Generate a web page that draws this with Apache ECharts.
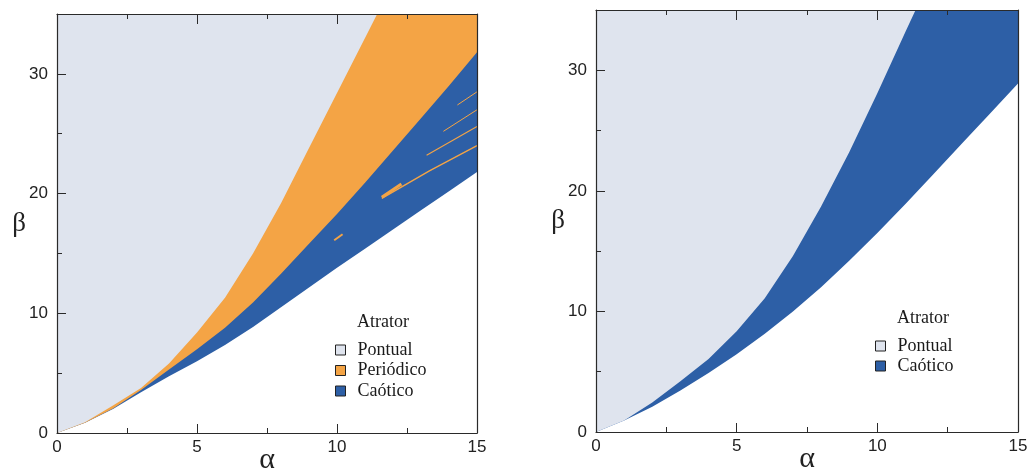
<!DOCTYPE html>
<html>
<head>
<meta charset="utf-8">
<script src="https://cdn.jsdelivr.net/npm/echarts@6/dist/echarts.min.js"></script>
<style>
html,body{margin:0;padding:0;background:#fff;}
#chart{width:1030px;height:476px;}
</style>
</head>
<body>
<div id="chart"></div>
<script>
// ---- data ----
const alpha = [0,1,2,3,4,5,6,7,8,9,10,11,12,13,14,15];

// left panel: boundaries beta(alpha)
const leftLower  = [0,0.85,2.0,3.4,4.75,6.0,7.35,8.85,10.5,12.15,13.8,15.4,17.0,18.6,20.2,21.8];
const leftMiddle = [0,0.85,2.05,3.6,5.3,7.0,8.8,10.9,13.3,15.8,18.3,20.9,23.6,26.3,29.0,31.8];
const leftUpper  = [0,0.9,2.3,3.75,5.8,8.4,11.3,15.0,19.2,23.8,28.4,33.0,37.6,42.0,46.5,51.0];

// thin periodic windows inside the chaotic band (left panel)
const streakA = [[11.6,19.6],[13.3,21.9],[15,24.0]];
const streakB = [[11.6,19.7],[12.3,20.8]];
const streakC = [[13.2,23.2],[15,25.6]];
const streakD = [[13.8,25.2],[15,27.0]];
const streakE = [[14.3,27.4],[15,28.5]];
const streakF = [[9.9,16.1],[10.2,16.6]];

// right panel
const rightLower = [0,0.95,2.1,3.45,4.9,6.45,8.15,10.0,12.0,14.2,16.5,18.9,21.4,23.9,26.4,28.9];
const rightUpper = [0,0.95,2.45,4.2,6.05,8.35,11.1,14.6,18.7,23.2,28.1,33.2,38.2,43.0,48.0,53.0];

const xTicks = {min:0, max:15, interval:5};
const yTicks = {min:0, max:35, interval:10, minorInterval:5};
const legendLeft = ['Pontual','Periódico','Caótico'];
const legendRight = ['Pontual','Caótico'];
const legendTitle = 'Atrator';

// ---- styling ----
const C_PONT = '#dfe4ee';
const C_PER  = '#f4a445';
const C_CAO  = '#2d5fa6';
const AX = '#2a2a2a';
const tickFont = {fontSize:17, fontFamily:'Liberation Sans, Arial, sans-serif', color:'#222'};
const greekFont = {fontFamily:'Liberation Serif, serif', color:'#222'};

function zip(xs, ys){ return xs.map((x,i)=>[x, ys[i]]); }

function xAxes(g){
  return [
    {type:'value', gridIndex:g, min:xTicks.min, max:xTicks.max, interval:xTicks.interval, position:'bottom', z:10,
     axisLine:{show:true, onZero:false, lineStyle:{color:AX, width:1.2}},
     axisTick:{show:true, inside:true, length:9, lineStyle:{color:AX}},
     minorTick:{show:true, splitNumber:2, length:5, lineStyle:{color:AX}},
     splitLine:{show:false}, minorSplitLine:{show:false},
     axisLabel:Object.assign({margin:6}, tickFont),
     name:'α', nameLocation:'middle', nameGap:12, nameMoveOverlap:false,
     nameTextStyle:Object.assign({fontSize:30, verticalAlign:'top'}, greekFont)},
    {type:'value', gridIndex:g, min:xTicks.min, max:xTicks.max, interval:xTicks.interval, position:'top', z:10,
     axisLine:{show:true, onZero:false, lineStyle:{color:AX, width:1.2}},
     axisTick:{show:true, inside:true, length:10, lineStyle:{color:AX}},
     minorTick:{show:true, splitNumber:2, length:5, lineStyle:{color:AX}},
     splitLine:{show:false}, minorSplitLine:{show:false},
     axisLabel:{show:false}}
  ];
}
function yAxes(g){
  return [
    {type:'value', gridIndex:g, min:yTicks.min, max:yTicks.max, interval:yTicks.interval, position:'left', z:10,
     axisLine:{show:true, onZero:false, lineStyle:{color:AX, width:1.2}},
     axisTick:{show:true, inside:true, length:9, lineStyle:{color:AX}},
     splitLine:{show:false},
     axisLabel:Object.assign({margin:9, showMaxLabel:false,
        formatter:v => (v % yTicks.interval === 0 ? String(v) : '')}, tickFont),
     name:'β', nameLocation:'middle', nameRotate:0, nameGap:38, nameMoveOverlap:false,
     nameTextStyle:Object.assign({fontSize:27, align:'center', verticalAlign:'middle', padding:[8,0,0,0]}, greekFont)},
    {type:'value', gridIndex:g, min:yTicks.min, max:yTicks.max, interval:yTicks.minorInterval, position:'left', z:10,
     axisLine:{show:false},
     axisTick:{show:true, inside:true, length:5, lineStyle:{color:AX}},
     splitLine:{show:false}, axisLabel:{show:false}},
    {type:'value', gridIndex:g, min:yTicks.min, max:yTicks.max, interval:yTicks.interval, position:'right', z:10,
     axisLine:{show:true, onZero:false, lineStyle:{color:AX, width:1.2}},
     axisTick:{show:false}, splitLine:{show:false}, axisLabel:{show:false}}
  ];
}

function region(name, color, data, xi, yi){
  return {type:'line', name:name, xAxisIndex:xi, yAxisIndex:yi, data:data,
    color:color, itemStyle:{color:color}, symbol:'none', smooth:false,
    lineStyle:{width:0, color:color}, areaStyle:{origin:'end', color:color, opacity:1},
    silent:true, clip:true};
}
function streak(data, w){
  return {type:'line', name:'Periódico', xAxisIndex:0, yAxisIndex:0, data:data,
    color:C_PER, itemStyle:{color:C_PER}, symbol:'none', lineStyle:{width:w, color:C_PER},
    z:3, silent:true};
}

const legendCommon = {orient:'vertical', icon:'rect', itemWidth:10, itemHeight:10, padding:0,
  selectedMode:false, itemStyle:{borderColor:'#222', borderWidth:1},
  textStyle:{fontSize:18, fontFamily:'Liberation Serif, serif', color:'#1a1a1a', padding:[0,0,0,7]}};

const option = {
  animation:false,
  backgroundColor:'#fff',
  grid:[
    {left:57, top:14, width:420, height:419, outerBoundsMode:'none', containLabel:false},
    {left:596, top:10, width:422, height:422, outerBoundsMode:'none', containLabel:false}
  ],
  xAxis:[...xAxes(0), ...xAxes(1)],
  yAxis:[...yAxes(0), ...yAxes(1)],
  title:[
    {text:legendTitle, left:357, top:313, padding:0, textStyle:{fontSize:18, fontWeight:'normal', fontFamily:'Liberation Serif, serif', color:'#1a1a1a'}},
    {text:legendTitle, left:897, top:309, padding:0, textStyle:{fontSize:18, fontWeight:'normal', fontFamily:'Liberation Serif, serif', color:'#1a1a1a'}}
  ],
  legend:[
    Object.assign({data:legendLeft, left:335, top:341, itemGap:2.5}, legendCommon),
    Object.assign({data:legendRight, left:875, top:337, itemGap:2}, legendCommon)
  ],
  series:[
    region('Caótico', C_CAO, zip(alpha, leftLower), 0, 0),
    region('Periódico', C_PER, zip(alpha, leftMiddle), 0, 0),
    region('Pontual', C_PONT, zip(alpha, leftUpper), 0, 0),
    streak(streakA, 1.4),
    streak(streakB, 3),
    streak(streakC, 1.1),
    streak(streakD, 1),
    streak(streakE, 1),
    streak(streakF, 2),
    region('Caótico', C_CAO, zip(alpha, rightLower), 2, 3),
    region('Pontual', C_PONT, zip(alpha, rightUpper), 2, 3)
  ]
};

const chart = echarts.init(document.getElementById('chart'), null, {renderer:'canvas'});
chart.setOption(option);
</script>
</body>
</html>
